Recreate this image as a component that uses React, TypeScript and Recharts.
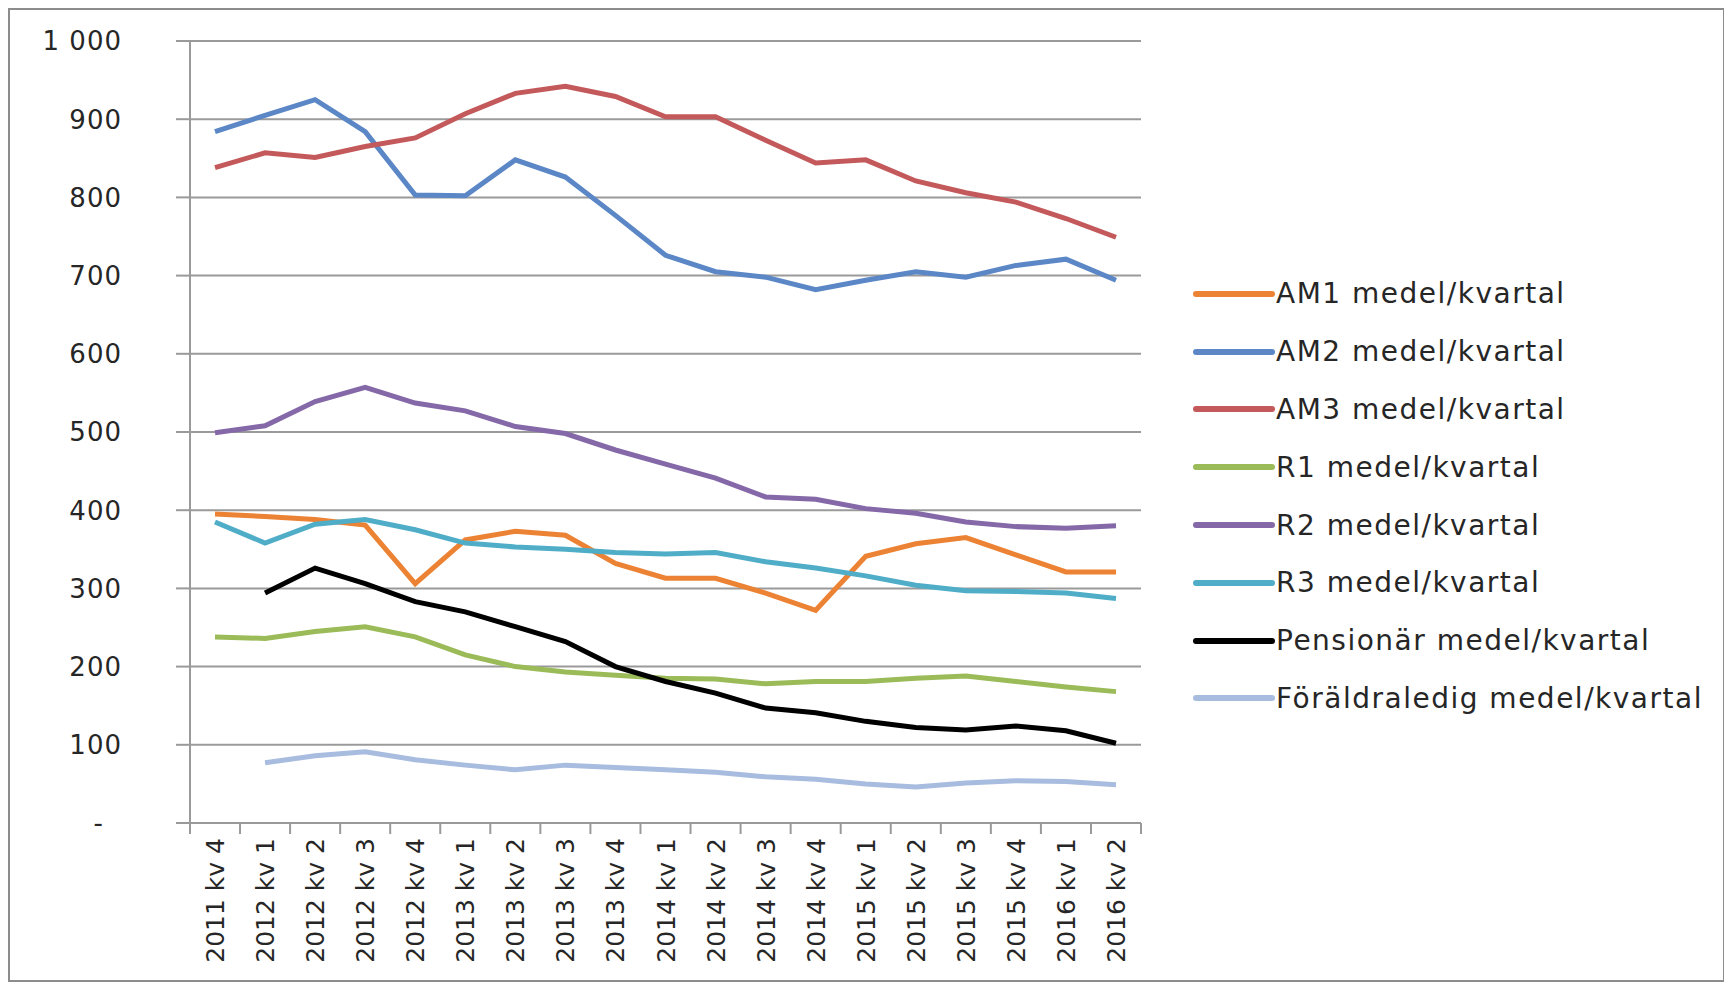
import React from 'react';
import { LineChart, Line, XAxis, YAxis, CartesianGrid, Legend } from 'recharts';

const CATEGORIES = [
  '2011 kv 4',
  '2012 kv 1', '2012 kv 2', '2012 kv 3', '2012 kv 4',
  '2013 kv 1', '2013 kv 2', '2013 kv 3', '2013 kv 4',
  '2014 kv 1', '2014 kv 2', '2014 kv 3', '2014 kv 4',
  '2015 kv 1', '2015 kv 2', '2015 kv 3', '2015 kv 4',
  '2016 kv 1', '2016 kv 2',
];

const AM1 = [395, 392, 388, 381, 306, 362, 373, 368, 332, 313, 313, 294, 272, 341, 357, 365, 343, 321, 321];
const AM2 = [884, 905, 925, 884, 803, 802, 848, 826, 777, 726, 705, 698, 682, 694, 705, 698, 713, 721, 694];
const AM3 = [838, 857, 851, 865, 876, 907, 933, 942, 929, 903, 903, 873, 844, 848, 821, 806, 794, 773, 749];
const R1 = [238, 236, 245, 251, 238, 215, 200, 193, 189, 185, 184, 178, 181, 181, 185, 188, 181, 174, 168];
const R2 = [499, 508, 539, 557, 537, 527, 507, 498, 477, 459, 441, 417, 414, 402, 396, 385, 379, 377, 380];
const R3 = [385, 358, 382, 388, 375, 358, 353, 350, 346, 344, 346, 334, 326, 316, 304, 297, 296, 294, 287];
const PENSIONAR = [null, 294, 326, 306, 283, 270, 251, 232, 200, 181, 166, 147, 141, 130, 122, 119, 124, 118, 102];
const FORALDRALEDIG = [null, 77, 86, 91, 81, 74, 68, 74, 71, 68, 65, 59, 56, 50, 46, 51, 54, 53, 49];

const Y_TICKS = [0, 100, 200, 300, 400, 500, 600, 700, 800, 900, 1000];

const SERIES = [
  { key: 'am1', name: 'AM1 medel/kvartal', color: '#EC8233', values: AM1 },
  { key: 'am2', name: 'AM2 medel/kvartal', color: '#5B87C6', values: AM2 },
  { key: 'am3', name: 'AM3 medel/kvartal', color: '#C4595B', values: AM3 },
  { key: 'r1', name: 'R1 medel/kvartal', color: '#9BBB59', values: R1 },
  { key: 'r2', name: 'R2 medel/kvartal', color: '#8468A8', values: R2 },
  { key: 'r3', name: 'R3 medel/kvartal', color: '#4FADC8', values: R3 },
  { key: 'pens', name: 'Pensionär medel/kvartal', color: '#000000', values: PENSIONAR },
  { key: 'foral', name: 'Föräldraledig medel/kvartal', color: '#A7BCDF', values: FORALDRALEDIG },
];

const data = CATEGORIES.map((cat, i) => {
  const row: Record<string, any> = { cat };
  SERIES.forEach((s) => {
    row[s.key] = s.values[i];
  });
  return row;
});

const FONT = '"DejaVu Sans", Verdana, sans-serif';
const TEXT_COLOR = '#262626';
const AXIS_COLOR = '#9a9a9a';

const formatY = (v: number) => (v === 0 ? '-' : v >= 1000 ? `${Math.floor(v / 1000)} ${String(v % 1000).padStart(3, '0')}` : String(v));

const YTick = (props: any) => {
  const { x, y, payload } = props;
  const v = payload.value as number;
  return (
    <text
      x={v === 0 ? x - 18 : x}
      y={y}
      dy="0.36em"
      textAnchor="end"
      fontFamily={FONT}
      fontSize={26}
      letterSpacing={1}
      fill={TEXT_COLOR}
    >
      {formatY(v)}
    </text>
  );
};

const XTick = (props: any) => {
  const { x, y, payload, index, width, visibleTicksCount } = props;
  const count = visibleTicksCount || CATEGORIES.length;
  const band = width && count ? width / count : 50;
  const left = x - band / 2;
  const right = x + band / 2;
  return (
    <g>
      <line x1={left} x2={left} y1={y} y2={y + 11} stroke={AXIS_COLOR} strokeWidth={2} />
      {index === count - 1 && (
        <line x1={right} x2={right} y1={y} y2={y + 11} stroke={AXIS_COLOR} strokeWidth={2} />
      )}
      <text
        transform={`translate(${x},${y + 15}) rotate(-90)`}
        textAnchor="end"
        dy="0.36em"
        fontFamily={FONT}
        fontSize={25}
        fill={TEXT_COLOR}
      >
        {payload.value}
      </text>
    </g>
  );
};

const LegendContent = () => (
  <div style={{ fontFamily: FONT }}>
    {SERIES.map((s) => (
      <div key={s.key} style={{ height: 57.8, display: 'flex', alignItems: 'center' }}>
        <svg width={84} height={12} style={{ display: 'block' }}>
          <line x1={4} x2={80} y1={6} y2={6} stroke={s.color} strokeWidth={6} strokeLinecap="round" />
        </svg>
        <span style={{ fontSize: 28, letterSpacing: 1.5, color: TEXT_COLOR, whiteSpace: 'nowrap' }}>{s.name}</span>
      </div>
    ))}
  </div>
);

export default function App() {
  return (
    <div style={{ position: 'relative', width: 1717, height: 974, outline: '2px solid #8c8c8c', outlineOffset: -2, background: '#fff' }}>
      <LineChart
        width={1717}
        height={974}
        data={data}
        margin={{ top: 33, right: 584, bottom: 9, left: 0 }}
      >
        <CartesianGrid vertical={false} horizontal stroke={AXIS_COLOR} strokeWidth={2} />
        <XAxis
          dataKey="cat"
          interval={0}
          height={150}
          padding={{ left: 25, right: 25 }}
          tickSize={0}
          tickMargin={0}
          tickLine={false}
          axisLine={{ stroke: AXIS_COLOR, strokeWidth: 2 }}
          tick={<XTick />}
        />
        <YAxis
          domain={[0, 1000]}
          ticks={Y_TICKS}
          width={182}
          tickSize={14}
          tickMargin={54}
          tickLine={{ stroke: AXIS_COLOR, strokeWidth: 2 }}
          axisLine={{ stroke: AXIS_COLOR, strokeWidth: 2 }}
          tick={<YTick />}
          interval={0}
        />
        <Legend
          layout="vertical"
          align="center"
          verticalAlign="middle"
          wrapperStyle={{ left: 1184, top: 257, width: 530 }}
          content={<LegendContent />}
        />
        {SERIES.map((s) => (
          <Line
            key={s.key}
            type="linear"
            dataKey={s.key}
            name={s.name}
            stroke={s.color}
            strokeWidth={5}
            dot={false}
            activeDot={false}
            connectNulls={false}
            isAnimationActive={false}
          />
        ))}
      </LineChart>
    </div>
  );
}
